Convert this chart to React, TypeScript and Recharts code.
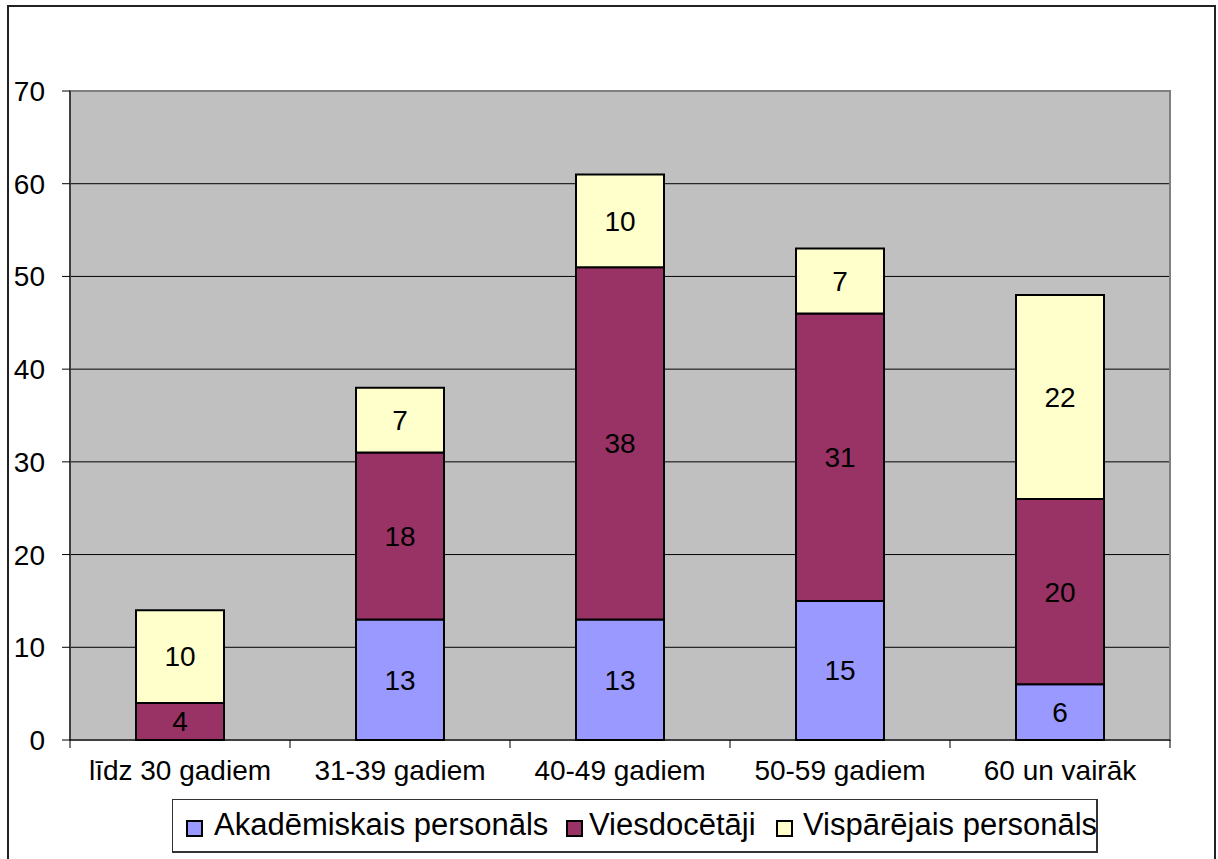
import { BarChart, Bar, XAxis, YAxis, CartesianGrid, LabelList, ReferenceArea } from 'recharts';

const categories = ['līdz 30 gadiem', '31-39 gadiem', '40-49 gadiem', '50-59 gadiem', '60 un vairāk'];
const akademiskais = [0, 13, 13, 15, 6];
const viesdocetaji = [4, 18, 38, 31, 20];
const visparejais = [10, 7, 10, 7, 22];
const yTicks = [0, 10, 20, 30, 40, 50, 60, 70];

const series = [
  { key: 'akad', name: 'Akadēmiskais personāls', color: '#9999FF' },
  { key: 'vies', name: 'Viesdocētāji', color: '#993366' },
  { key: 'visp', name: 'Vispārējais personāls', color: '#FFFFCC' },
];

// legend item left edges (square, text)
const legendPos = [
  [13, 41],
  [393, 416],
  [603, 630],
];

const data = categories.map((name, i) => ({
  name,
  akad: akademiskais[i],
  vies: viesdocetaji[i],
  visp: visparejais[i],
}));

const FONT = '"Liberation Sans", Arial, sans-serif';
const HALF_BAND = 110;

function XTick(props: any) {
  const { x, y, payload, index } = props;
  return (
    <g>
      <line x1={x - HALF_BAND} y1={y - 8} x2={x - HALF_BAND} y2={y} stroke="#000" />
      {index === categories.length - 1 && (
        <line x1={x + HALF_BAND} y1={y - 8} x2={x + HALF_BAND} y2={y} stroke="#000" />
      )}
      <text x={x} y={y + 32} textAnchor="middle" fontSize={28} fill="#000" fontFamily={FONT}>
        {payload.value}
      </text>
    </g>
  );
}

const hideZero = (v: any) => (v ? v : '');

export default function App() {
  return (
    <div style={{ position: 'relative', width: 1218, height: 859, background: '#fff', fontFamily: FONT }}>
      <style>{`body{margin:0}`}</style>
      <div
        style={{
          position: 'absolute',
          left: 7,
          top: 5,
          width: 1209,
          height: 900,
          border: '2px solid #222',
          boxSizing: 'border-box',
        }}
      />
      <div style={{ position: 'absolute', left: 0, top: 0 }}>
        <BarChart
          width={1218}
          height={859}
          data={data}
          margin={{ top: 91, right: 48, left: 10, bottom: 69 }}
          barSize={88}
        >
          <CartesianGrid vertical={false} stroke="#000" fill="#C0C0C0" fillOpacity={1} />
          <ReferenceArea y1={0} y2={70} fill="none" stroke="#808080" strokeWidth={2} />
          <XAxis
            dataKey="name"
            height={50}
            tickLine={false}
            tickSize={8}
            tickMargin={0}
            stroke="#000"
            tick={<XTick />}
            interval={0}
          />
          <YAxis
            width={60}
            domain={[0, 70]}
            ticks={yTicks}
            tickSize={8}
            tickMargin={17}
            stroke="#000"
            tick={{ fontSize: 28, fill: '#000', fontFamily: FONT }}
            interval={0}
          />
          {series.map((s) => (
            <Bar
              key={s.key}
              dataKey={s.key}
              name={s.name}
              stackId="a"
              fill={s.color}
              stroke="#000"
              strokeWidth={2}
              isAnimationActive={false}
            >
              <LabelList
                dataKey={s.key}
                position="center"
                formatter={hideZero}
                fill="#000"
                fontSize={28}
                fontFamily={FONT}
              />
            </Bar>
          ))}
        </BarChart>
      </div>
      <div
        style={{
          position: 'absolute',
          left: 172,
          top: 799,
          width: 926,
          height: 54,
          border: '1px solid #333',
          borderRightWidth: 2,
          borderBottomWidth: 2,
          boxSizing: 'border-box',
          fontSize: 31,
          color: '#000',
          whiteSpace: 'nowrap',
        }}
      >
        {series.map((s, i) => (
          <div key={s.key}>
            <span
              style={{
                position: 'absolute',
                left: legendPos[i][0],
                top: 20,
                width: 13,
                height: 13,
                background: s.color,
                border: '2px solid #000',
              }}
            />
            <span style={{ position: 'absolute', left: legendPos[i][1], top: 7, lineHeight: '36px' }}>
              {s.name}
            </span>
          </div>
        ))}
      </div>
    </div>
  );
}
